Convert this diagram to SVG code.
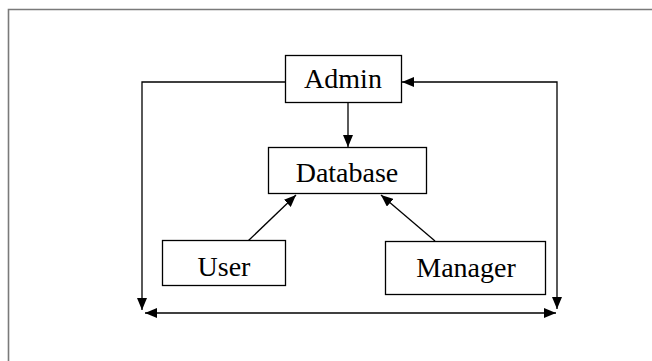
<svg xmlns="http://www.w3.org/2000/svg" width="652" height="361" viewBox="0 0 652 361">
  <style>
    .box { fill: #ffffff; stroke: #000000; stroke-width: 1.3; }
    .lbl { font-family: "Liberation Serif", "Times New Roman", serif; font-size: 28px; fill: #000000; text-anchor: middle; }
    .edge { fill: none; stroke: #000000; stroke-width: 1.3; }
    .frame { fill: none; stroke: #7a7a7a; stroke-width: 1.6; }
  </style>
  <defs>
    <marker id="arrow" viewBox="0 0 12 10" refX="12" refY="5" markerWidth="12" markerHeight="10" markerUnits="userSpaceOnUse" orient="auto-start-reverse">
      <path d="M0,0 L12,5 L0,10 Z" fill="#000000"/>
    </marker>
  </defs>

  <rect width="652" height="361" fill="#ffffff"/>
  <!-- page frame -->
  <path class="frame" d="M8.5,361 V9.5 H652"/>

  <g id="connectors">
    <!-- Admin to Database -->
    <line class="edge" x1="348" y1="103" x2="348" y2="147" marker-end="url(#arrow)"/>
    <!-- User to Database -->
    <line class="edge" x1="248" y1="241" x2="296" y2="195" marker-end="url(#arrow)"/>
    <!-- Manager to Database -->
    <line class="edge" x1="435" y1="241" x2="381" y2="195" marker-end="url(#arrow)"/>
    <!-- Admin down the left side -->
    <polyline class="edge" points="285,82 142,82 142,310" marker-end="url(#arrow)"/>
    <!-- right side, two-way between Admin and the bottom line -->
    <polyline class="edge" points="557,309 557,82 402,82" marker-start="url(#arrow)" marker-end="url(#arrow)"/>
    <!-- bottom two-way line -->
    <line class="edge" x1="145" y1="313" x2="556" y2="313" marker-start="url(#arrow)" marker-end="url(#arrow)"/>
  </g>

  <g id="admin">
    <rect class="box" x="285.5" y="55.5" width="116" height="47"/>
    <text class="lbl" x="343" y="88">Admin</text>
  </g>
  <g id="database">
    <rect class="box" x="268.5" y="147.5" width="158" height="46"/>
    <text class="lbl" x="347" y="182">Database</text>
  </g>
  <g id="user">
    <rect class="box" x="162.5" y="240.5" width="123" height="45"/>
    <text class="lbl" x="224" y="276">User</text>
  </g>
  <g id="manager">
    <rect class="box" x="385.5" y="241.5" width="160" height="53"/>
    <text class="lbl" x="466" y="277">Manager</text>
  </g>
</svg>
